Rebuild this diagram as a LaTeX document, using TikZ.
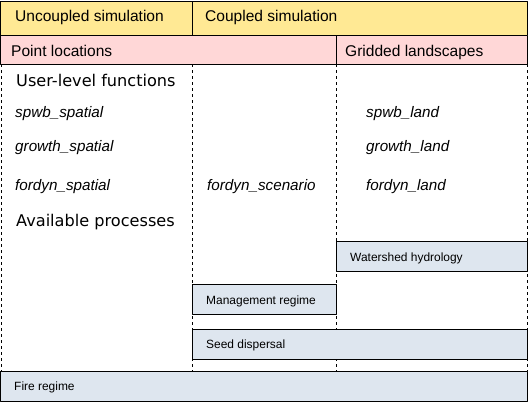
\documentclass[tikz,border=0pt]{standalone}
\usepackage{fontspec}
\setmainfont{Liberation Sans}
\newfontfamily\dejavu{DejaVu Sans}
\definecolor{headyellow}{HTML}{FFE994}
\definecolor{headpink}{HTML}{FFD7D7}
\definecolor{procblue}{HTML}{DEE6EF}
\begin{document}
\begin{tikzpicture}[x=1bp,y=-1bp,line join=round,
	boxline/.style={draw=black,line width=1bp},
	sepline/.style={draw=black,line width=0.9bp,dash pattern=on 3bp off 3bp},
	headtext/.style={anchor=base west,inner sep=0pt,font=\fontsize{15.6}{18}\selectfont},
	sectext/.style={anchor=base west,inner sep=0pt,font=\dejavu\fontsize{16.2}{19}\selectfont},
	functext/.style={anchor=base west,inner sep=0pt,font=\itshape\fontsize{15.3}{18}\selectfont},
	proctext/.style={anchor=base west,inner sep=0pt,font=\fontsize{12}{14}\selectfont}]
	\useasboundingbox (0,0) rectangle (530,404);
	% column separators
	\foreach \xc in {1,192,336,527}
		\draw[sepline] (\xc,64) -- (\xc,371);
	% header rows
	\draw[boxline,fill=headyellow] (0.5,1) rectangle (192,35);
	\draw[boxline,fill=headyellow] (192,1) rectangle (527.5,35);
	\draw[boxline,fill=headpink] (0.5,35) rectangle (336,64);
	\draw[boxline,fill=headpink] (336,35) rectangle (527.5,64);
	\node[headtext] (uncoupled) at (15,21) {Uncoupled simulation};
	\node[headtext] (coupled) at (205,21) {Coupled simulation};
	\node[headtext] (points) at (11,56) {Point locations};
	\node[headtext] (gridded) at (345,56) {Gridded landscapes};
	% functions
	\node[sectext] (userfun) at (16,86) {User-level functions};
	\node[functext] (spwbspat) at (15,117) {spwb\_spatial};
	\node[functext] (growthspat) at (15,151.5) {growth\_spatial};
	\node[functext] (fordynspat) at (15,190) {fordyn\_spatial};
	\node[functext] (fordynscen) at (207,190) {fordyn\_scenario};
	\node[functext] (spwbland) at (366,117) {spwb\_land};
	\node[functext] (growthland) at (366,151.5) {growth\_land};
	\node[functext] (fordynland) at (366,190) {fordyn\_land};
	\node[sectext] (avail) at (16,226) {Available processes};
	% processes
	\draw[boxline,fill=procblue] (336,241.5) rectangle (527.5,271);
	\draw[boxline,fill=procblue] (192,284.5) rectangle (336,314);
	\draw[boxline,fill=procblue] (192,329.5) rectangle (527.5,359);
	\draw[boxline,fill=procblue] (0.5,371.5) rectangle (527.5,401);
	\node[proctext] (hydro) at (350,261) {Watershed hydrology};
	\node[proctext] (manage) at (206,304) {Management regime};
	\node[proctext] (seed) at (206,348.5) {Seed dispersal};
	\node[proctext] (fire) at (14,390) {Fire regime};
\end{tikzpicture}
\end{document}
